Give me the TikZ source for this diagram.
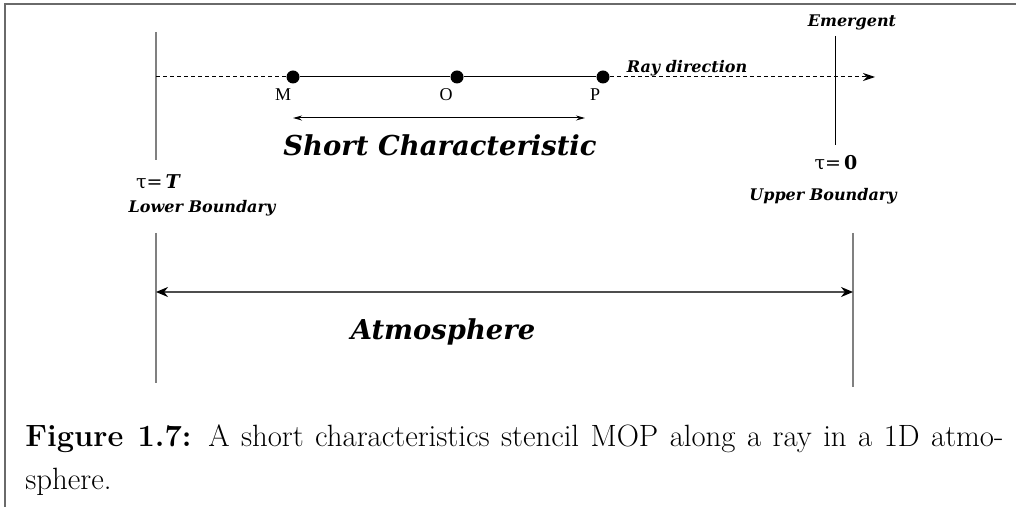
\documentclass[tikz,border=0pt]{standalone}
\usepackage{fontspec}
\usetikzlibrary{arrows.meta,positioning,calc}
\newfontfamily\figfont{DejaVu Serif}
\newfontfamily\ptfont{Liberation Serif}
\definecolor{frame}{HTML}{6A6A6A}
\definecolor{bound}{HTML}{808080}

\begin{document}
\begin{tikzpicture}[x=0.5pt, y=-0.5pt,
  stencil/.style={circle, fill, inner sep=0pt, minimum size=6.5pt},
  ptlbl/.style={font=\ptfont\fontsize{9}{10}\selectfont, inner sep=0pt},
  biglbl/.style={font=\figfont\bfseries\itshape\fontsize{13.7}{16}\selectfont, inner sep=0pt},
  smalllbl/.style={font=\figfont\bfseries\itshape\fontsize{8}{9}\selectfont, inner sep=0pt},
  taulbl/.style={font=\figfont\fontsize{9.5}{10}\selectfont, inner sep=0pt},
  raytip/.style={-{Stealth[length=6pt,width=4pt]}},
  bothtips/.style={{Stealth[length=6pt,width=5pt,color=black]}-{Stealth[length=6pt,width=5pt,color=black]}}]
  \useasboundingbox (0,0) rectangle (1016,507);
  % page frame
  \coordinate (fr1) at (1016,4);
  \coordinate (fr2) at (5,4);
  \coordinate (fr3) at (5,507);
  \draw[frame, line width=0.8pt] (fr1) -- (fr2) -- (fr3);

  % boundaries
  \coordinate (lbtop) at (156,32);
  \coordinate (lbbot) at (156,160);
  \coordinate (ubtop) at (835,36);
  \coordinate (ubbot) at (835,145);
  \draw[bound, line width=0.6pt] (lbtop) -- (lbbot);
  \draw[line width=0.5pt] (ubtop) -- (ubbot);
  \node[smalllbl] (emerg) at (852,22) {Emergent};
  \node[taulbl] (tauT) at (158,182) {τ={\bfseries\itshape\,T}};
  \node[smalllbl] (lower) at (202,208) {Lower Boundary};
  \node[taulbl] (tau0) at (836,163) {τ={\bfseries\,0}};
  \node[smalllbl] (upper) at (823,196) {Upper Boundary};

  % stencil along the ray
  \node[stencil] (M) at (293,77) {};
  \node[stencil] (O) at (457,77) {};
  \node[stencil] (P) at (603,77) {};
  \node[ptlbl] (Mlbl) at (283,95) {M};
  \node[ptlbl] (Olbl) at (446,95) {O};
  \node[ptlbl] (Plbl) at (595,95) {P};
  \coordinate (ray0) at (156,77);
  \coordinate (rayend) at (875,77);
  \draw[dash pattern=on 2pt off 1.5pt, line width=0.5pt] (ray0) -- (M);
  \draw[line width=0.5pt] (M) -- (O) -- (P);
  \draw[dash pattern=on 2pt off 1.5pt, line width=0.5pt, raytip] (P) -- (rayend);
  \node[smalllbl] (raydir) at (687,68) {Ray direction};

  % short characteristic
  \coordinate (scl) at (293,118);
  \coordinate (scr) at (585,118);
  \draw[line width=0.5pt, {Stealth[length=4.5pt,width=2.5pt]}-{Stealth[length=4.5pt,width=2.5pt]}] (scl) -- (scr);
  \node[biglbl] (shortc) at (440,145) {Short Characteristic};

  % atmosphere
  \coordinate (altop) at (156,233);
  \coordinate (albot) at (156,383);
  \coordinate (artop) at (853,233);
  \coordinate (arbot) at (853,387);
  \draw[bound, line width=0.6pt] (altop) -- (albot);
  \draw[bound, line width=0.6pt] (artop) -- (arbot);
  \coordinate (atl) at (156,292);
  \coordinate (atr) at (853,292);
  \draw[bound!60!black, line width=0.6pt, bothtips] (atl) -- (atr);
  \node[biglbl] (atmos) at (443,332) {Atmosphere};

  % caption
  \node[anchor=north west, inner sep=0pt, text width=489pt, align=justify,
        font=\fontsize{15.4}{21.5}\selectfont] (caption) at (25,424)
    {\textbf{Figure 1.7:} A short characteristics stencil MOP along a ray in a 1D atmo-\linebreak sphere.};
\end{tikzpicture}
\end{document}
